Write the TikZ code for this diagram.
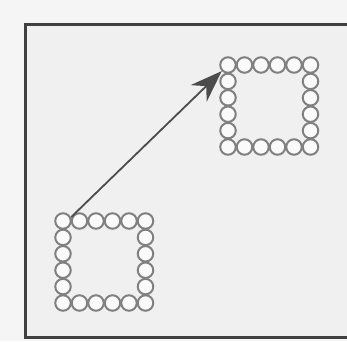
\documentclass[tikz,border=0pt]{standalone}
\usetikzlibrary{arrows.meta, calc}

\begin{document}
\begin{tikzpicture}[
  x=1pt, y=-1pt,
  bead/.style={circle, draw=black!50, fill=black!2, line width=2pt,
    minimum size=15.5pt, inner sep=0pt},
  frame/.style={draw=black!75, line width=3pt, fill=black!6},
  move/.style={draw=black!70, line width=1.8pt,
    -{Stealth[length=32pt, width=23pt]}},
]
  \useasboundingbox[fill=black!4] (0,0) rectangle (347,341);
  \begin{scope}
    \clip (0,0) rectangle (347,341);
    \draw[frame] (25,24) rectangle (360,337);
  \end{scope}

  % zwei Ringe aus je 20 Kugeln
  \foreach \ring/\xo/\yo in {lo/63/221, hi/228/65} {
    \foreach \i in {0,...,5} {
      \node[bead] (\ring-\i-0) at (\xo+16.5*\i,\yo) {};
      \node[bead] (\ring-\i-5) at (\xo+16.5*\i,\yo+16.4*5) {};
    }
    \foreach \j in {1,...,4} {
      \node[bead] (\ring-0-\j) at (\xo,\yo+16.4*\j) {};
      \node[bead] (\ring-5-\j) at (\xo+16.5*5,\yo+16.4*\j) {};
    }
  }

  % Verschiebung
  \coordinate (start) at ($(lo-0-0)!0.5!(lo-1-0)+(0,-4)$);
  \draw[move] (start) -- (hi-0-0);
\end{tikzpicture}
\end{document}
